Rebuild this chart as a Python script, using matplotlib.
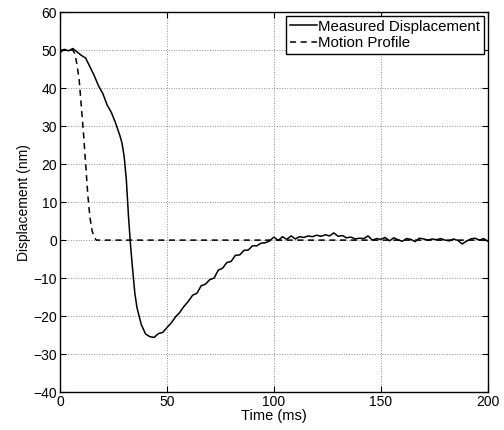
import matplotlib
matplotlib.use('Agg')
import matplotlib.pyplot as plt
import numpy as np

plt.rcParams['font.family'] = ['Liberation Sans', 'DejaVu Sans']

# measured displacement (ms, nm); 2 ms steps, 1 ms through the fast drop
t_meas = (list(range(0, 28, 2)) + list(range(28, 39)) + list(range(40, 201, 2)))
d_meas = [
    49.3, 50.2, 49.8, 50.4, 49.5, 48.6, 47.9, 45.6, 43.3, 40.6,     # 0-18
    38.6, 35.6, 33.6, 30.8,                                         # 20-26
    27.5, 25.5, 22.0, 16.0, 6.5, -1.5, -8.0, -14.0, -17.8, -20.0, -22.2,  # 28-38
    -24.7, -25.4, -25.6, -24.6, -24.3, -23.0, -21.8, -20.2, -19.0, -17.4,  # 40-58
    -16.1, -14.5, -14.0, -12.0, -11.6, -10.4, -10.0, -7.9, -7.4, -5.9,  # 60-78
    -5.6, -4.0, -3.9, -2.7, -2.6, -1.5, -1.5, -0.8, -0.7, -0.2,     # 80-98
    0.8, -0.1, 0.9, 0.2, 1.1, 0.3, 0.9, 0.7, 1.1, 0.9,              # 100-118
    1.3, 1.0, 1.4, 1.1, 1.9, 1.0, 1.2, 0.6, 0.8, 0.3,               # 120-138
    0.5, 0.4, 1.1, 0.0, 0.4, 0.2, 0.7, -0.2, 0.6, 0.1,              # 140-158
    -0.3, 0.4, 0.2, -0.4, 0.5, 0.3, 0.0, 0.3, 0.1, 0.4,             # 160-178
    0.0, -0.2, 0.3, -0.1, -1.0, -0.3, 0.3, 0.5, 0.0, 0.4,           # 180-198
    -0.3,                                                           # 200
]

# commanded motion profile
t_prof = [0, 6, 7, 8, 9, 10, 11, 12, 13, 14, 15, 16, 17, 200]
d_prof = [50, 50, 49, 46, 42, 35, 28, 20, 12, 6, 2.5, 0.7, 0, 0]

fig = plt.figure(figsize=(5.04, 4.30), dpi=100)
ax = fig.add_axes([0.119, 0.088, 0.849, 0.884])

ax.plot(t_meas, d_meas, 'k-', lw=1.1, label='Measured Displacement')
ax.plot(t_prof, d_prof, 'k--', lw=1.1, dashes=(4, 3), label='Motion Profile')

ax.set_xlim(0, 200)
ax.set_ylim(-40, 60)
ax.set_xticks([0, 50, 100, 150, 200])
ax.set_yticks(np.arange(-40, 61, 10))
ax.grid(True, linestyle=':', color='0.55', lw=0.7)
ax.tick_params(direction='in', top=True, right=True, labelsize=10, length=4, pad=2)
for s in ax.spines.values():
    s.set_linewidth(1.0)

ax.set_xlabel('Time (ms)', fontsize=10.5, labelpad=0)
ax.set_ylabel('Displacement (nm)', fontsize=10, labelpad=2)

leg = ax.legend(loc='upper right', fontsize=10.8, fancybox=False, framealpha=1,
                edgecolor='k', handlelength=1.8, handletextpad=0.1,
                borderpad=0.25, labelspacing=0.15, borderaxespad=0.25)
leg.get_frame().set_linewidth(1.0)

fig.savefig('out.png', dpi=100)
